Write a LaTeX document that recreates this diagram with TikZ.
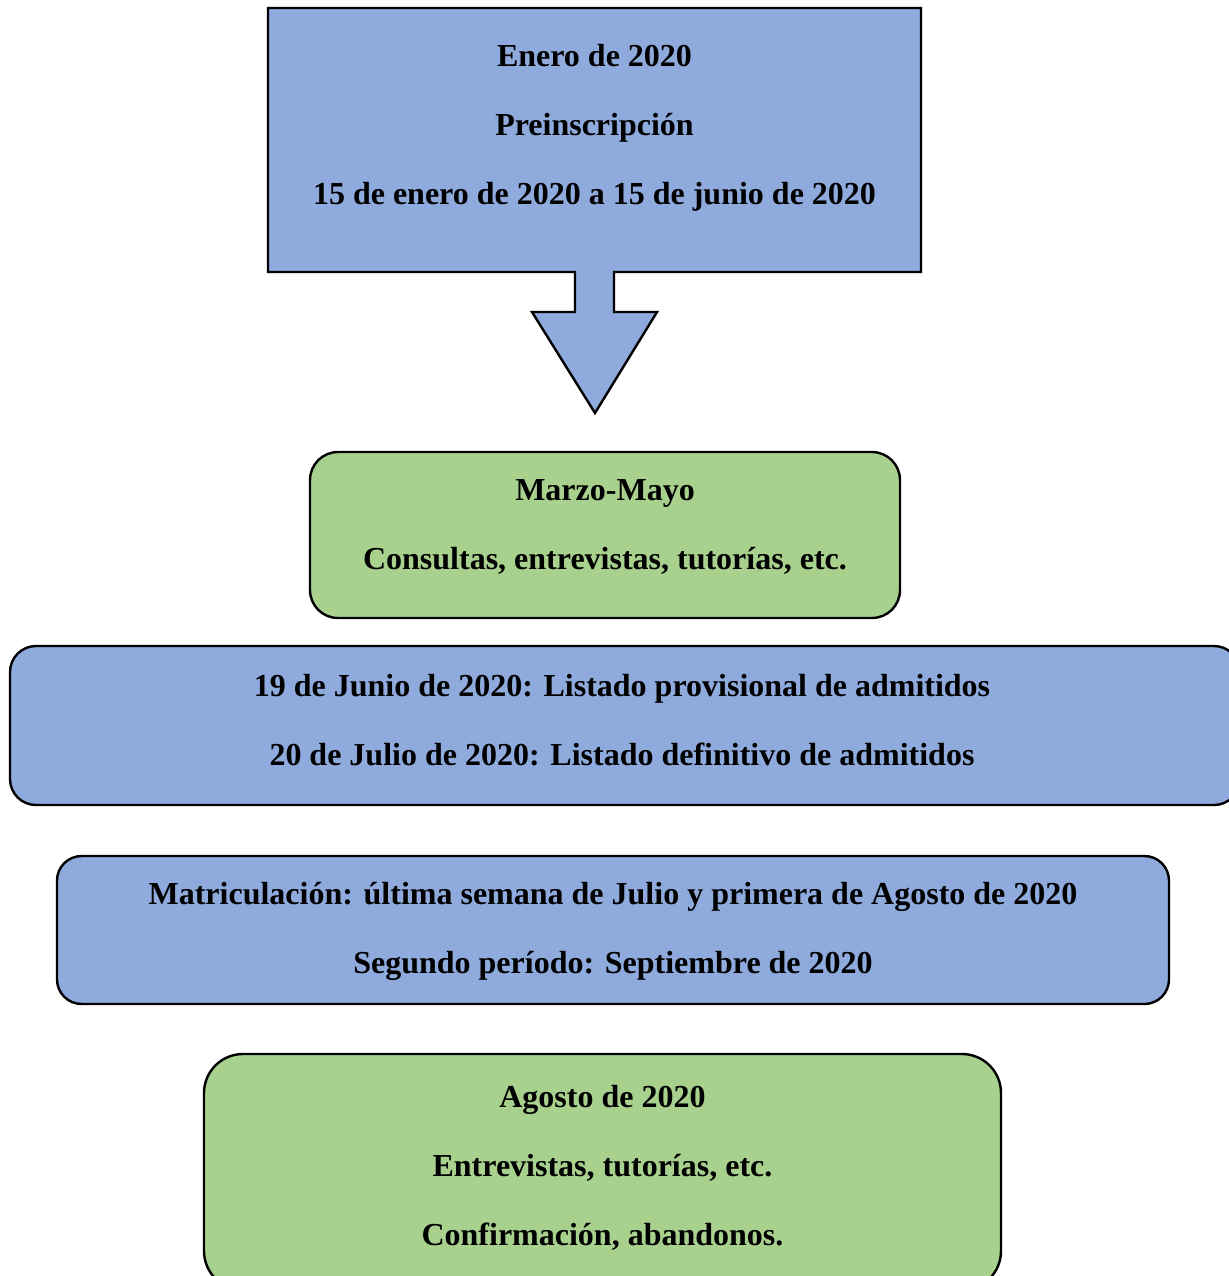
\documentclass[tikz,border=0pt]{standalone}
\usepackage{fontspec}
\setmainfont{Liberation Serif}
\definecolor{boxblue}{HTML}{8FAADC}
\definecolor{boxgreen}{HTML}{A9D18E}
\begin{document}
\begin{tikzpicture}[x=0.5pt,y=-0.5pt,
  bluebox/.style={draw=black,line width=1.2pt,fill=boxblue,inner sep=0pt},
  greenbox/.style={draw=black,line width=1.2pt,fill=boxgreen,inner sep=0pt},
  txt/.style={align=center,inner sep=0pt,font=\bfseries\fontsize{16}{34.5}\selectfont}]
\useasboundingbox (0,0) rectangle (1228,1276);
\draw [bluebox,line join=miter] (268,8) -- (921,8) -- (921,272) -- (614,272) -- (614,312)
	-- (657,312) -- (595,413) -- (532,312) -- (575,312) -- (575,272) -- (268,272) -- cycle;
\node [txt] (preinstxt) at (594.5,128) {Enero de 2020\\Preinscripción\\15 de enero de 2020 a 15 de junio de 2020};
\node [greenbox,rounded corners=14pt,minimum width=295pt,minimum height=83pt] (consultas) at (605,535) {};
\node [txt] (consultastxt) at (605,527) {Marzo-Mayo\\Consultas, entrevistas, tutorías, etc.};
\node [bluebox,rounded corners=13pt,minimum width=615pt,minimum height=79.5pt] (listado) at (625,725.5) {};
\node [txt] (listadotxt) at (622,720) {19 de Junio de 2020: Listado provisional de admitidos\\20 de Julio de 2020: Listado definitivo de admitidos};
\node [bluebox,rounded corners=12.3pt,minimum width=556pt,minimum height=74pt] (matricula) at (613,930) {};
\node [txt] (matriculatxt) at (613,931) {Matriculación: última semana de Julio y primera de Agosto de 2020\\Segundo período: Septiembre de 2020};
\node [greenbox,rounded corners=19.5pt,minimum width=398.5pt,minimum height=118pt] (agosto) at (602.5,1172) {};
\node [txt] (agostotxt) at (602.5,1168) {Agosto de 2020\\Entrevistas, tutorías, etc.\\Confirmación, abandonos.};
\end{tikzpicture}
\end{document}
